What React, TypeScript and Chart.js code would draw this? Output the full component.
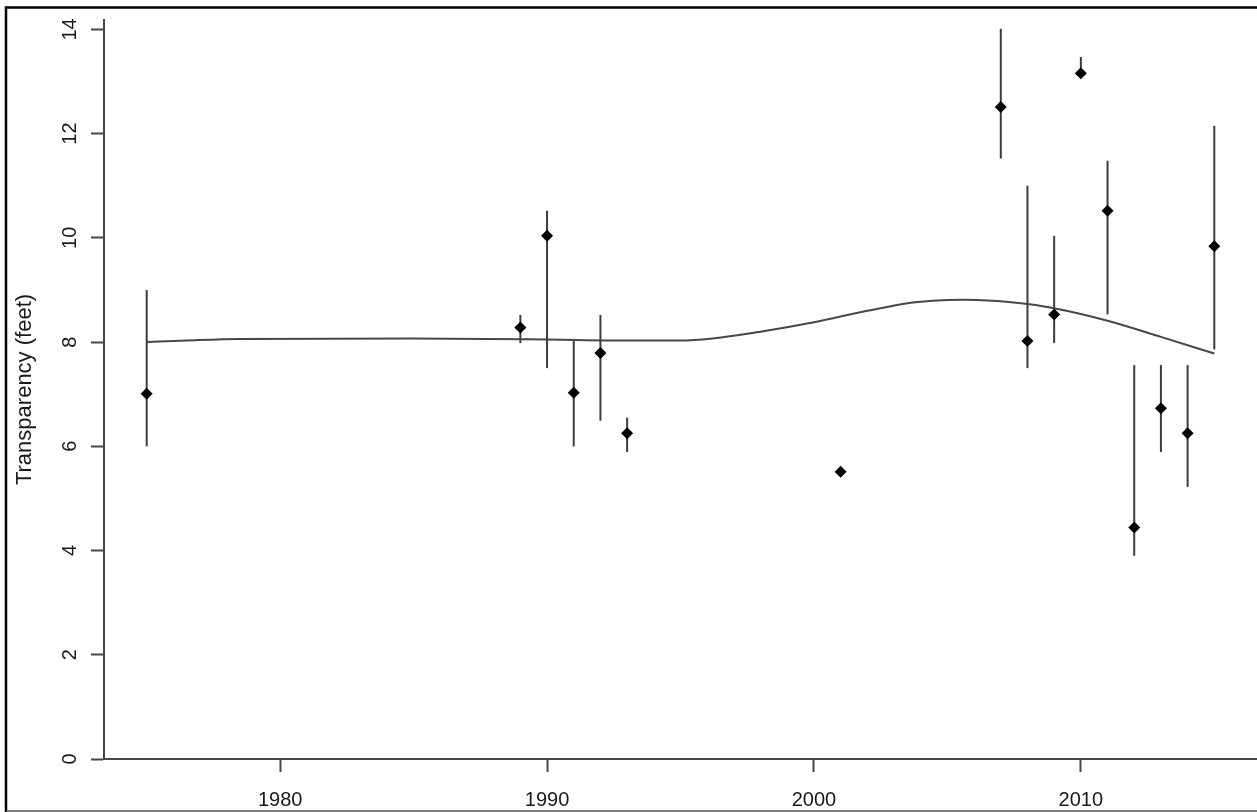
import React, { useEffect, useRef } from "react";
import { Chart, registerables } from "chart.js";

Chart.register(...registerables);

// ---- data ----
const years = [1975, 1989, 1990, 1991, 1992, 1993, 2001, 2007, 2008, 2009, 2010, 2011, 2012, 2013, 2014, 2015];
const means = [7.01, 8.28, 10.04, 7.03, 7.79, 6.25, 5.51, 12.51, 8.02, 8.53, 13.16, 10.52, 4.44, 6.73, 6.25, 9.84];
const lows = [6.0, 7.98, 7.5, 6.0, 6.49, 5.89, null, 11.52, 7.5, 7.98, 13.16, 8.53, 3.9, 5.89, 5.22, 7.86];
const highs = [9.0, 8.52, 10.52, 8.02, 8.52, 6.55, null, 14.01, 11.0, 10.04, 13.47, 11.48, 7.56, 7.56, 7.56, 12.15];

const curveYears = [1975, 1976.5, 1978.5, 1985, 1990, 1993, 1995, 1996.2, 1998, 2000, 2002, 2003.7, 2004.6, 2005.6, 2006.5, 2007.3, 2008, 2009, 2011, 2013, 2015];
const curveValues = [8.0, 8.03, 8.06, 8.07, 8.05, 8.03, 8.03, 8.07, 8.2, 8.38, 8.6, 8.76, 8.8, 8.81, 8.8, 8.77, 8.73, 8.65, 8.41, 8.1, 7.78];

const xTicks = [1980, 1990, 2000, 2010];
const yTicks = [0, 2, 4, 6, 8, 10, 12, 14];

const AX = "#474747";
const TXT = "#1a1a1a";
const FONT = "'Liberation Sans', Arial, sans-serif";

const errorBarPlugin = {
  id: "errorBars",
  beforeDatasetsDraw(chart: any) {
    const { ctx, scales } = chart;
    const xs = scales.x;
    const ys = scales.y;
    ctx.save();
    ctx.strokeStyle = "#3c3c3c";
    ctx.lineWidth = 2;
    years.forEach((yr, i) => {
      const lo = lows[i];
      const hi = highs[i];
      if (lo == null || hi == null) return;
      const px = xs.getPixelForValue(yr);
      ctx.beginPath();
      ctx.moveTo(px, ys.getPixelForValue(lo));
      ctx.lineTo(px, ys.getPixelForValue(hi));
      ctx.stroke();
    });
    ctx.restore();
  },
};

const framePlugin = {
  id: "frame",
  afterDraw(chart: any) {
    const { ctx, width, height } = chart;
    ctx.save();
    ctx.strokeStyle = "#000";
    ctx.lineWidth = 2.5;
    ctx.beginPath();
    ctx.moveTo(6, height);
    ctx.lineTo(6, 7.5);
    ctx.lineTo(width, 7.5);
    ctx.stroke();
    ctx.strokeStyle = "#555";
    ctx.lineWidth = 1.5;
    ctx.beginPath();
    ctx.moveTo(6, 811);
    ctx.lineTo(width, 811);
    ctx.stroke();
    ctx.restore();
  },
};

export default function App() {
  const ref = useRef<HTMLCanvasElement | null>(null);

  useEffect(() => {
    if (!ref.current) return;
    const chart = new Chart(ref.current, {
      type: "scatter",
      data: {
        datasets: [
          {
            type: "line",
            data: curveYears.map((x, i) => ({ x, y: curveValues[i] })),
            borderColor: "#474747",
            borderWidth: 2,
            pointRadius: 0,
            fill: false,
            cubicInterpolationMode: "monotone",
            order: 2,
          } as any,
          {
            type: "scatter",
            data: years.map((x, i) => ({ x, y: means[i] })),
            pointStyle: "rectRot",
            pointRadius: 6,
            backgroundColor: "#000",
            borderColor: "#000",
            borderWidth: 0,
            order: 0,
          } as any,
        ],
      },
      options: {
        responsive: false,
        animation: false,
        layout: { autoPadding: false, padding: { top: 20, left: 0, right: 0, bottom: 0 } },
        plugins: { legend: { display: false }, tooltip: { enabled: false } },
        scales: {
          x: {
            type: "linear",
            min: 1973.4,
            max: 2016.6,
            afterBuildTicks: (s: any) => {
              s.ticks = xTicks.map((v) => ({ value: v }));
            },
            afterFit: (s: any) => {
              s.height = 53;
              s.paddingLeft = 0;
              s.paddingRight = 0;
            },
            grid: { drawOnChartArea: false, tickLength: 13, tickWidth: 2, tickColor: AX },
            border: { color: AX, width: 2 },
            ticks: {
              padding: 16,
              autoSkip: false,
              maxRotation: 0,
              color: TXT,
              font: { family: FONT, size: 20 },
              callback: (v: any) => String(v),
            },
          },
          y: {
            type: "linear",
            min: 0,
            max: 14.18,
            afterBuildTicks: (s: any) => {
              s.ticks = yTicks.map((v) => ({ value: v }));
            },
            afterFit: (s: any) => {
              s.width = 104;
              s.paddingTop = 0;
              s.paddingBottom = 0;
            },
            grid: { drawOnChartArea: false, tickLength: 13, tickWidth: 2, tickColor: AX },
            border: { color: AX, width: 2 },
            title: {
              display: true,
              text: "Transparency (feet)",
              color: TXT,
              font: { family: FONT, size: 22 },
              padding: { top: 12, bottom: 0 },
            },
            ticks: {
              minRotation: 90,
              maxRotation: 90,
              crossAlign: "center",
              padding: 9,
              autoSkip: false,
              color: TXT,
              font: { family: FONT, size: 20 },
              callback: (v: any) => String(v),
            },
          },
        },
      } as any,
      plugins: [errorBarPlugin, framePlugin],
    });
    return () => chart.destroy();
  }, []);

  return (
    <div style={{ position: "absolute", left: 0, top: 0, width: 1257, height: 812, background: "#fff" }}>
      <canvas ref={ref} width={1257} height={812} style={{ width: 1257, height: 812, display: "block" }} />
    </div>
  );
}
